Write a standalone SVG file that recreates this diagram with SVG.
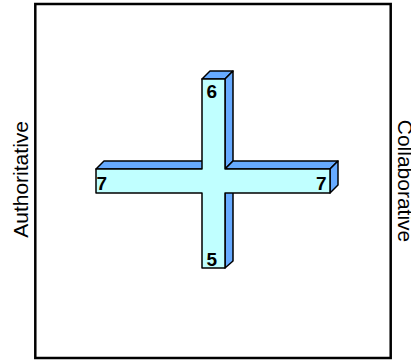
<svg xmlns="http://www.w3.org/2000/svg" width="411" height="360" viewBox="0 0 411 360">
<style>
.side{fill:#66AAFF;stroke:#000;stroke-width:1.5;stroke-linejoin:round}
.front{fill:#C0FFFF;stroke:#000;stroke-width:1.5;stroke-linejoin:round}
.num{font-family:"Liberation Sans",Arial,sans-serif;font-weight:bold;font-size:19px;fill:#000}
.axis{font-family:"Liberation Sans",Arial,sans-serif;font-size:21px;fill:#000;text-anchor:middle}
</style>
<rect x="35.3" y="4" width="355.4" height="354" fill="#fff" stroke="#000" stroke-width="2.5"/>
<g id="cross">
<polygon class="side" points="202,79 225,79 233,71 210,71"/>
<polygon class="side" points="225,79 233,71 233,161 225,169"/>
<polygon class="side" points="96,169 202,169 210,161 104,161"/>
<polygon class="side" points="225,169 330,169 338,161 233,161"/>
<polygon class="side" points="330,169 338,161 338,185 330,193"/>
<polygon class="side" points="225,193 233,185 233,261 225,268"/>
<polygon class="front" points="202,79 225,79 225,169 330,169 330,193 225,193 225,268 202,268 202,193 96,193 96,169 202,169"/>
</g>
<g id="labels">
<text class="num" x="206.5" y="97.5">6</text>
<text class="num" x="96.5" y="190">7</text>
<text class="num" x="316" y="190">7</text>
<text class="num" x="206.5" y="265.5">5</text>
</g>
<g id="axes">
<text class="axis" transform="translate(28.3,179.4) rotate(-90)">Authoritative</text>
<text class="axis" transform="translate(398.3,181) rotate(90)">Collaborative</text>
</g>
</svg>
